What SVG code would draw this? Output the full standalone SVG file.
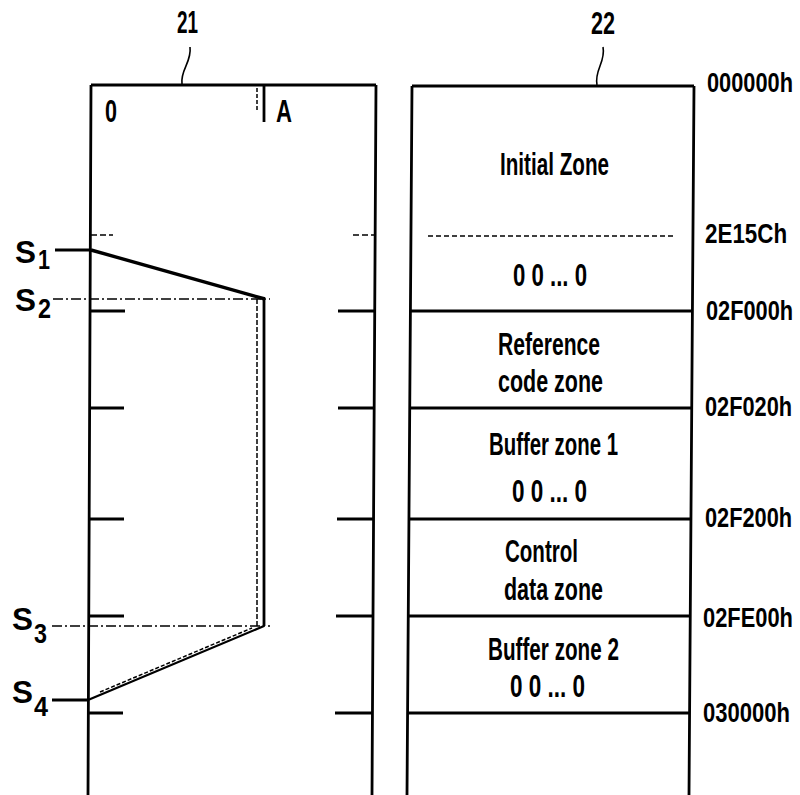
<svg xmlns="http://www.w3.org/2000/svg" width="800" height="795" viewBox="0 0 800 795">
<style>
  .ln{stroke:#000;stroke-width:2.8;fill:none;stroke-linecap:butt}
  .thin{stroke:#000;stroke-width:1.6;fill:none}
  .dash{stroke:#000;stroke-width:1.5;fill:none;stroke-dasharray:5 3}
  .dd{stroke:#000;stroke-width:1.5;fill:none;stroke-dasharray:10 3 2 3}
  text{font-family:"Liberation Sans",Arial,sans-serif;fill:#000;font-weight:bold}
  .lab{font-size:31px}
  .addr{font-size:28px}
  .sub{font-size:27px}
</style>
<rect width="800" height="795" fill="#fff"/>

<g id="track21">
  <path class="ln" d="M91,85 H376 M91,85 L88,795 M376,85 L372,795"/>
  <path class="thin" d="M182,84 C180,70 192,62 190,47"/>
  <text class="lab" x="177" y="33" textLength="21" lengthAdjust="spacingAndGlyphs">21</text>
  <text class="lab" x="105" y="122" textLength="12" lengthAdjust="spacingAndGlyphs">0</text>
  <text class="lab" x="276" y="122" textLength="16" lengthAdjust="spacingAndGlyphs">A</text>
  <path class="ln" d="M264,85 V122"/>
  <path class="dash" d="M257,88 V110" style="stroke-dasharray:4 2"/>
  <path class="dash" d="M91,235 H113 M353,235 H376" style="stroke-dasharray:6 3"/>
  <path class="ln" d="M91,311 H125 M91,408 H124 M90,519 H124 M89,616 H124 M88,713 H123"/>
  <path class="ln" d="M338,311 H376 M338,408 H375 M337,519 H374 M336,616 H373 M335,713 H373"/>
</g>

<g id="track22">
  <path class="ln" d="M412,86 H694 M412,86 L407,795 M694,86 L689,795"/>
  <path class="ln" d="M411,311 H693 M411,408 H692 M410,519 H692 M409,616 H691 M408,713 H690"/>
  <path class="dash" d="M428,236 H676" style="stroke-dasharray:5 3"/>
  <path class="thin" d="M597,85 C594,70 606,62 603,47"/>
  <text class="lab" x="591" y="34" textLength="24" lengthAdjust="spacingAndGlyphs">22</text>
  <text class="lab" x="500" y="175" textLength="109" lengthAdjust="spacingAndGlyphs">Initial Zone</text>
  <text class="lab" x="513" y="286" textLength="74" lengthAdjust="spacingAndGlyphs">0 0 ... 0</text>
  <text class="lab" x="498" y="355" textLength="102" lengthAdjust="spacingAndGlyphs">Reference</text>
  <text class="lab" x="498" y="392" textLength="105" lengthAdjust="spacingAndGlyphs">code zone</text>
  <text class="lab" x="489" y="455" textLength="129" lengthAdjust="spacingAndGlyphs">Buffer zone 1</text>
  <text class="lab" x="512" y="502" textLength="75" lengthAdjust="spacingAndGlyphs">0 0 ... 0</text>
  <text class="lab" x="505" y="562" textLength="73" lengthAdjust="spacingAndGlyphs">Control</text>
  <text class="lab" x="504" y="600" textLength="99" lengthAdjust="spacingAndGlyphs">data zone</text>
  <text class="lab" x="488" y="660" textLength="131" lengthAdjust="spacingAndGlyphs">Buffer zone 2</text>
  <text class="lab" x="510" y="697" textLength="75" lengthAdjust="spacingAndGlyphs">0 0 ... 0</text>
</g>

<g id="addresses">
  <text class="addr" transform="translate(707,92) scale(0.778,1)">000000h</text>
  <text class="addr" transform="translate(705,243) scale(0.8,1)">2E15Ch</text>
  <text class="addr" transform="translate(706,320) scale(0.777,1)">02F000h</text>
  <text class="addr" transform="translate(705,416) scale(0.777,1)">02F020h</text>
  <text class="addr" transform="translate(705,527) scale(0.777,1)">02F200h</text>
  <text class="addr" transform="translate(703,627) scale(0.781,1)">02FE00h</text>
  <text class="addr" transform="translate(703,722) scale(0.787,1)">030000h</text>
</g>

<g id="positions">
  <text class="lab" x="15" y="263" textLength="21" lengthAdjust="spacingAndGlyphs">S</text>
  <text class="sub" x="38" y="269" textLength="12" lengthAdjust="spacingAndGlyphs">1</text>
  <text class="lab" x="15" y="311" textLength="21" lengthAdjust="spacingAndGlyphs">S</text>
  <text class="sub" x="38" y="318" textLength="13" lengthAdjust="spacingAndGlyphs">2</text>
  <text class="lab" x="12" y="630" textLength="21" lengthAdjust="spacingAndGlyphs">S</text>
  <text class="sub" x="34" y="643" textLength="13" lengthAdjust="spacingAndGlyphs">3</text>
  <text class="lab" x="12" y="703" textLength="21" lengthAdjust="spacingAndGlyphs">S</text>
  <text class="sub" x="34" y="716" textLength="14" lengthAdjust="spacingAndGlyphs">4</text>
</g>

<g id="connectors">
  <path class="ln" d="M55,250 H91"/>
  <path class="ln" d="M52,700 H88"/>
  <path class="dd" d="M53,299 H270"/>
  <path class="dd" d="M52,626 H270"/>
  <path class="ln" d="M91,250 L265,299" style="stroke-width:3.4"/>
  <path class="ln" d="M264,299 V626"/>
  <path class="dash" d="M257,299 V626" style="stroke-dasharray:5 2"/>
  <path class="ln" d="M88,700 L264,626" style="stroke-width:2.2"/>
  <path class="dash" d="M100,692 L252,628" style="stroke-dasharray:4 2"/>
</g>
</svg>
